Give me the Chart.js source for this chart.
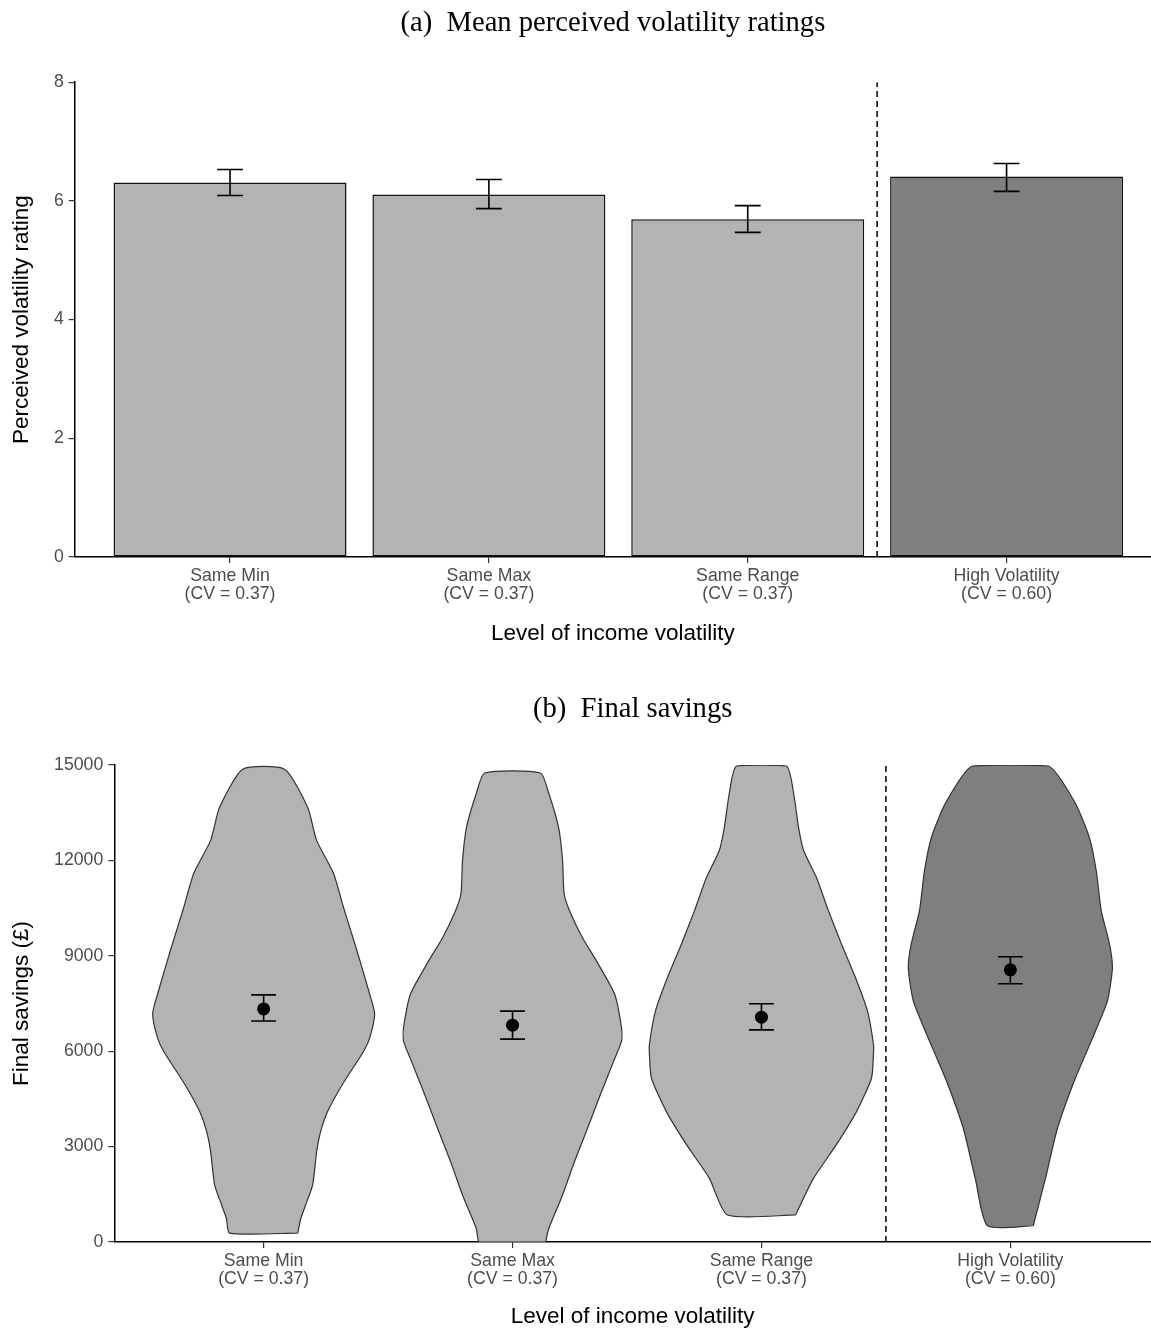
<!DOCTYPE html>
<html>
<head>
<meta charset="utf-8">
<script src="https://cdn.jsdelivr.net/npm/chart.js@4/dist/chart.umd.min.js"></script>
<style>
  body { margin: 0; background: #fff; overflow: hidden; }
  .panel { position: relative; width: 1151px; }
</style>
</head>
<body>
<div class="panel" style="height:660px"><canvas id="ratings"></canvas></div>
<div class="panel" style="height:670px"><canvas id="savings"></canvas></div>
<script>
const categories = [
  ["Same Min", "(CV = 0.37)"],
  ["Same Max", "(CV = 0.37)"],
  ["Same Range", "(CV = 0.37)"],
  ["High Volatility", "(CV = 0.60)"],
];

// (a) mean perceived volatility ratings, with error bars
const ratingMeans = [6.31, 6.11, 5.69, 6.41];
const ratingLow = [6.09, 5.87, 5.47, 6.16];
const ratingHigh = [6.53, 6.36, 5.92, 6.63];
const ratingTicks = [0, 2, 4, 6, 8];

// (b) final savings: means with error bars
const savingsMeans = [7330, 6820, 7070, 8560];
const savingsLow = [6950, 6380, 6670, 8120];
const savingsHigh = [7770, 7260, 7490, 8970];
const savingsTicks = [0, 3000, 6000, 9000, 12000, 15000];

// violin outlines: savings level and half width (in category units)
const sameMinLevels = [280, 730, 1170, 1800, 2840, 3470, 4100, 4960, 6000, 6410, 7170, 7800, 9160, 10520, 11590, 12630, 13670, 14870];
const sameMinWidths = [0.137, 0.149, 0.169, 0.197, 0.213, 0.229, 0.257, 0.317, 0.402, 0.426, 0.446, 0.426, 0.375, 0.321, 0.281, 0.213, 0.177, 0.084];
const sameMaxLevels = [0, 410, 1480, 2530, 3570, 4640, 5680, 6320, 6730, 7800, 8840, 9570, 10420, 10960, 12000, 13040, 14120, 14750];
const sameMaxWidths = [0.133, 0.145, 0.201, 0.249, 0.301, 0.353, 0.406, 0.438, 0.438, 0.410, 0.337, 0.281, 0.229, 0.207, 0.201, 0.185, 0.145, 0.112];
const sameRangeLevels = [850, 2000, 3060, 4100, 5150, 5900, 6220, 7260, 8310, 9380, 10420, 11460, 12320, 13040, 14120, 14970];
const sameRangeWidths = [0.137, 0.209, 0.301, 0.382, 0.442, 0.450, 0.450, 0.426, 0.378, 0.321, 0.269, 0.221, 0.169, 0.149, 0.129, 0.100];
const highVolLevels = [510, 2000, 3570, 5150, 6540, 7580, 8620, 9380, 10420, 11680, 12730, 13800, 14970];
const highVolWidths = [0.092, 0.141, 0.189, 0.261, 0.337, 0.390, 0.410, 0.398, 0.365, 0.345, 0.317, 0.261, 0.153];

const violins = [
  [sameMinLevels, sameMinWidths],
  [sameMaxLevels, sameMaxWidths],
  [sameRangeLevels, sameRangeWidths],
  [highVolLevels, highVolWidths],
];

const fills = ["#b3b3b3", "#b3b3b3", "#b3b3b3", "#7f7f7f"];
const tickGray = "#4d4d4d";

Chart.defaults.font.family = "'Liberation Sans', Arial, sans-serif";
Chart.defaults.color = tickGray;

function errorBars(low, high) {
  return {
    id: "errorBars",
    afterDatasetsDraw(chart) {
      const { ctx, scales: { x, y } } = chart;
      ctx.save();
      ctx.strokeStyle = "#000";
      ctx.lineWidth = 1.6;
      low.forEach((lo, i) => {
        const cx = x.getPixelForValue(i + 1);
        const half = x.getPixelForValue(i + 1.05) - cx;
        const y1 = y.getPixelForValue(lo);
        const y2 = y.getPixelForValue(high[i]);
        ctx.beginPath();
        ctx.moveTo(cx, y1); ctx.lineTo(cx, y2);
        ctx.moveTo(cx - half, y1); ctx.lineTo(cx + half, y1);
        ctx.moveTo(cx - half, y2); ctx.lineTo(cx + half, y2);
        ctx.stroke();
      });
      ctx.restore();
    },
  };
}

function xAxis(max, titlePad) {
  return {
    type: "linear",
    min: 0.4,
    max: max,
    offset: false,
    afterBuildTicks: (axis) => {
      axis.ticks = categories.map((_, i) => ({ value: i + 1 }));
    },
    ticks: {
      callback: (value) => categories[value - 1],
      padding: 4,
      maxRotation: 0,
      autoSkip: false,
      font: { size: 17.7, lineHeight: 1.02 },
      color: tickGray,
    },
    grid: { offset: false, drawOnChartArea: false, tickLength: 6, color: "#333", lineWidth: 1.2 },
    border: { color: "#000", width: 1.5 },
    title: {
      display: true,
      text: "Level of income volatility",
      color: "#000",
      font: { size: 22.5 },
      padding: titlePad,
    },
  };
}

function yAxis(ticks, title, bottomPad) {
  return {
    min: ticks[0],
    max: ticks[ticks.length - 1],
    afterBuildTicks: (axis) => {
      axis.ticks = ticks.map((v) => ({ value: v }));
    },
    ticks: { padding: 5, font: { size: 17.7 }, color: tickGray, callback: (v) => String(v) },
    grid: { drawOnChartArea: false, tickLength: 6, color: "#333", lineWidth: 1.2 },
    border: { color: "#000", width: 1.5 },
    title: {
      display: true,
      text: title,
      color: "#000",
      font: { size: 22.5 },
      padding: { top: 8.5, bottom: bottomPad },
    },
  };
}

function plotTitle(text, top, bottom) {
  return {
    display: true,
    text: text,
    fullSize: false,
    color: "#000",
    font: { family: "'Liberation Serif', 'Times New Roman', serif", size: 28.6, weight: "normal" },
    padding: { top: top, bottom: bottom },
  };
}

new Chart(document.getElementById("ratings"), {
  type: "bar",
  data: {
    datasets: [
      {
        type: "bar",
        data: ratingMeans.map((v, i) => ({ x: i + 1, y: v })),
        backgroundColor: fills,
        borderColor: "#111",
        borderWidth: 1.5,
        borderSkipped: false,
        categoryPercentage: 1,
        barPercentage: 0.9,
      },
      {
        type: "line",
        data: [{ x: 3.5, y: ratingTicks[0] }, { x: 3.5, y: ratingTicks[ratingTicks.length - 1] }],
        borderColor: "#000",
        borderWidth: 1.5,
        borderDash: [6, 4],
        pointRadius: 0,
      },
    ],
  },
  options: {
    responsive: true,
    maintainAspectRatio: false,
    animation: false,
    layout: { padding: 0, autoPadding: false },
    plugins: {
      legend: { display: false },
      tooltip: { enabled: false },
      title: plotTitle("(a)  Mean perceived volatility ratings", 6.8, 41.1),
    },
    scales: {
      x: xAxis(4.558, { top: 13.1, bottom: 12.8 }),
      y: yAxis(ratingTicks, "Perceived volatility rating", 13.4),
    },
  },
  plugins: [errorBars(ratingLow, ratingHigh)],
});

const violinSets = violins.map(([levels, widths], i) => {
  const c = i + 1;
  const right = levels.map((v, j) => ({ x: c + widths[j], y: v }));
  const left = levels.map((v, j) => ({ x: c - widths[j], y: v })).reverse();
  return {
    type: "line",
    data: [...right, ...left, right[0]],
    borderColor: "#333",
    borderWidth: 1.2,
    backgroundColor: fills[i],
    fill: "shape",
    tension: 0.2,
    pointRadius: 0,
    order: 3,
  };
});

new Chart(document.getElementById("savings"), {
  type: "line",
  data: {
    datasets: [
      {
        type: "line",
        data: savingsMeans.map((v, i) => ({ x: i + 1, y: v })),
        showLine: false,
        pointRadius: 6.5,
        pointBackgroundColor: "#000",
        pointBorderWidth: 0,
        order: 1,
      },
      {
        type: "line",
        data: [{ x: 3.5, y: savingsTicks[0] }, { x: 3.5, y: savingsTicks[savingsTicks.length - 1] }],
        borderColor: "#000",
        borderWidth: 1.5,
        borderDash: [6, 4],
        pointRadius: 0,
        order: 2,
      },
      ...violinSets,
    ],
  },
  options: {
    responsive: true,
    maintainAspectRatio: false,
    animation: false,
    layout: { padding: 0, autoPadding: false },
    plugins: {
      legend: { display: false },
      tooltip: { enabled: false },
      title: plotTitle("(b)  Final savings", 32.3, 38.4),
    },
    scales: {
      x: xAxis(4.565, { top: 10.9, bottom: 0 }),
      y: yAxis(savingsTicks, "Final savings (£)", 13.6),
    },
  },
  plugins: [errorBars(savingsLow, savingsHigh)],
});
</script>
</body>
</html>
